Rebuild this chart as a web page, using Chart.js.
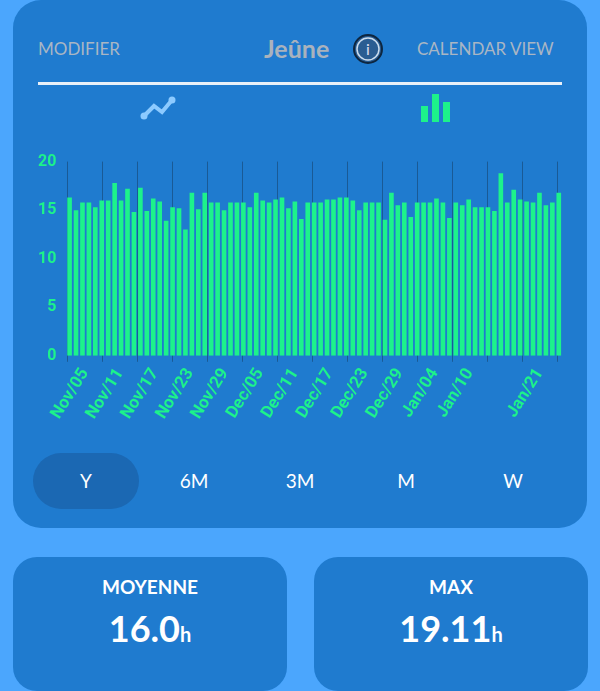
<!DOCTYPE html>
<html><head><meta charset="utf-8">
<script src="https://cdn.jsdelivr.net/npm/chart.js@4"></script>
<style>
body{margin:0;width:600px;height:691px;background:#4ba6fd;font-family:Lato,"Open Sans",sans-serif;position:relative;overflow:hidden}
.card{position:absolute;left:13px;top:0;width:574px;height:528px;background:#1f7bcf;border-radius:28px}
.top{position:absolute;top:38px;color:#a9b6c4;font-size:17px}
.line{position:absolute;left:38px;top:82px;width:524px;height:3px;background:#e8f0f8}
.pill{position:absolute;top:453px;width:106px;height:56px;border-radius:28px;text-align:center;line-height:56px;color:#fff;font-size:19px}
.stat{position:absolute;top:557px;width:274px;height:134px;background:#1f7bcf;border-radius:24px;color:#fff;text-align:center}
.stat .l{margin-top:18px;font-size:19px;font-weight:bold}
.stat .v{margin-top:8px;font-size:36px;font-weight:bold}
.stat .v span{font-size:20px}
#wrap{position:absolute;left:20px;top:150px;width:562px;height:276px}
</style></head><body>
<div class="card"></div>
<div class="top" style="left:38px">MODIFIER</div>
<div class="top" style="left:264px;top:33px;font-size:25px;font-weight:bold;color:#a9b2bd">Jeûne</div>
<svg style="position:absolute;left:352px;top:33px" width="32" height="32"><circle cx="16" cy="16" r="14" fill="#2a5d92" stroke="#0d2640" stroke-width="2"/><circle cx="16" cy="16" r="11" fill="none" stroke="#cde" stroke-width="1.5"/><text x="16" y="22" text-anchor="middle" font-size="16" fill="#dde" font-family="Lato">i</text></svg>
<div class="top" style="left:417px">CALENDAR VIEW</div>
<div class="line"></div>
<svg style="position:absolute;left:138px;top:94px" width="50" height="30"><polyline points="6,22 16,12 24,18 34,6" fill="none" stroke="#8ccaff" stroke-width="4" stroke-linecap="round"/><circle cx="6" cy="22" r="3.5" fill="#8ccaff"/><circle cx="34" cy="6" r="3.5" fill="#8ccaff"/></svg>
<svg style="position:absolute;left:420px;top:92px" width="34" height="32"><rect x="1" y="14" width="7" height="16" fill="#1df28b"/><rect x="12" y="2" width="7" height="28" fill="#1df28b"/><rect x="23" y="10" width="7" height="20" fill="#1df28b"/></svg>
<div id="wrap"><canvas id="c"></canvas></div>
<div class="pill" style="left:33px;background:#1b68b3">Y</div>
<div class="pill" style="left:141px">6M</div>
<div class="pill" style="left:247px">3M</div>
<div class="pill" style="left:353px">M</div>
<div class="pill" style="left:460px">W</div>
<div class="stat" style="left:13px"><div class="l">MOYENNE</div><div class="v">16.0<span>h</span></div></div>
<div class="stat" style="left:314px"><div class="l">MAX</div><div class="v">19.11<span>h</span></div></div>
<script>
const values=[16.3,15.0,15.8,15.8,15.3,16.0,16.0,17.8,16.0,17.2,14.8,17.3,14.9,16.2,15.9,13.9,15.3,15.2,13.0,16.8,15.1,16.8,15.8,15.8,15.0,15.8,15.8,15.8,15.3,16.8,16.0,15.8,16.1,16.3,15.2,15.9,14.1,15.8,15.8,15.8,16.1,16.1,16.3,16.3,16.0,15.0,15.8,15.8,15.8,14.0,16.8,15.5,15.8,14.3,15.8,15.8,15.8,16.2,15.8,14.2,15.8,15.5,16.1,15.3,15.3,15.3,14.9,18.8,15.8,17.1,16.1,15.9,15.8,16.8,15.5,15.8,16.8];
const tickLabels=["Nov/05","Nov/11","Nov/17","Nov/23","Nov/29","Dec/05","Dec/11","Dec/17","Dec/23","Dec/29","Jan/04","Jan/10","","Jan/21"];
const yTicks=[0,5,10,15,20];
const days=values.map((v,i)=>i);
const green='#1df28b';
new Chart(document.getElementById('c'),{
 type:'bar',
 data:{labels:days,datasets:[{data:values,backgroundColor:green,barPercentage:0.72,categoryPercentage:1}]},
 options:{responsive:true,maintainAspectRatio:false,animation:false,
  layout:{padding:{left:16,right:20,top:4,bottom:0}},
  plugins:{legend:{display:false},tooltip:{enabled:false}},
  scales:{
   x:{display:false,offset:true},
   x2:{type:'linear',position:'bottom',min:-0.03,max:13.13,
     afterBuildTicks:s=>{s.ticks=tickLabels.map((l,i)=>({value:i}));},
     ticks:{autoSkip:false,maxRotation:58,minRotation:58,color:green,font:{family:'Roboto',size:17,weight:'bold'},callback:(v,i)=>tickLabels[i]},
     grid:{color:'#1a5a95',drawTicks:true,tickLength:6},border:{display:false}},
   y:{min:0,max:20,afterBuildTicks:s=>{s.ticks=yTicks.map(v=>({value:v}));},
     ticks:{color:green,font:{family:'Roboto',size:16,weight:'bold'},padding:2},
     grid:{display:false},border:{display:false}}
  }}
});
</script>
</body></html>
